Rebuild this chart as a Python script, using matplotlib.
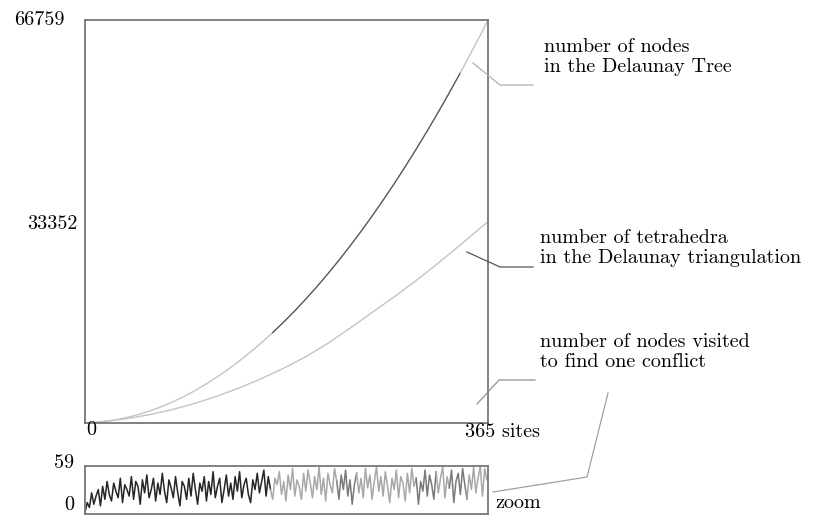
import numpy as np
import matplotlib
matplotlib.use("Agg")
import matplotlib.pyplot as plt
from matplotlib.lines import Line2D

plt.rcParams["font.family"] = ["cmr10", "DejaVu Serif"]
plt.rcParams["axes.formatter.use_mathtext"] = True

# number of nodes in the Delaunay Tree (every 10 sites, last = 365)
node_sites = [0, 10, 20, 30, 40, 50, 60, 70, 80, 90, 100, 110, 120, 130, 140,
              150, 160, 170, 180, 190, 200, 210, 220, 230, 240, 250, 260, 270,
              280, 290, 300, 310, 320, 330, 340, 350, 360, 365]
node_counts = [0, 104, 304, 602, 998, 1490, 2080, 2766, 3550, 4430, 5410, 6485,
               7660, 8930, 10300, 11760, 13320, 14980, 16730, 18580, 20540,
               22580, 24730, 26970, 29310, 31740, 34280, 36910, 39630, 42460,
               45380, 48400, 51510, 54730, 58040, 61450, 64950, 66759]

# number of tetrahedra in the Delaunay triangulation
tetra_sites = [0, 20, 40, 60, 80, 100, 120, 140, 160, 180, 200, 220, 240, 260,
               280, 300, 320, 340, 360, 365]
tetra_counts = [0, 301, 780, 1435, 2268, 3277, 4463, 5827, 7367, 9084, 10978,
                13200, 15700, 18300, 20900, 23600, 26500, 29500, 32600, 33352]

# number of nodes visited to find one conflict (every 2 sites)
visited = [2, 14, 8, 26, 12, 22, 30, 10, 34, 18, 40, 24, 16, 38, 28, 20, 44, 14, 36, 30,
           22, 46, 18, 40, 34, 12, 42, 26, 48, 20, 30, 44, 16, 38, 24, 50, 28, 14, 42, 32,
           20, 46, 26, 10, 40, 34, 18, 44, 22, 50, 30, 12, 38, 28, 46, 16, 40, 24, 52, 20,
           34, 44, 14, 30, 48, 22, 38, 18, 46, 28, 52, 20, 36, 44, 24, 14, 42, 30, 50, 26,
           40, 54, 22, 46, 30, 18, 44, 36, 52, 24, 40, 16, 48, 30, 56, 22, 42, 34, 18, 50,
           28, 54, 38, 20, 46, 30, 58, 24, 44, 16, 50, 36, 26, 56, 40, 18, 48, 30, 54, 22,
           42, 12, 36, 50, 26, 44, 20, 56, 32, 48, 18, 40, 58, 28, 46, 22, 52, 34, 14, 44,
           30, 54, 20, 46, 38, 16, 50, 26, 56, 34, 44, 12, 40, 28, 54, 22, 48, 36, 18, 52,
           26, 44, 58, 20, 46, 32, 54, 14, 40, 50, 24, 56, 36, 18, 48, 30, 58, 26, 44, 59,
           22, 56, 42]
visited_sites = list(range(0, 366, 2))

# shading of the zoom strip: (first site, last site, colour)
zoom_spans = [(0, 168, "#262626"), (168, 228, "#a8a8a8"), (228, 246, "#7a7a7a"),
              (246, 300, "#a8a8a8"), (300, 318, "#7a7a7a"), (318, 330, "#a8a8a8"),
              (330, 346, "#7a7a7a"), (346, 364, "#a8a8a8")]

n_sites = 365
max_nodes = 66759
max_visited = 59

W, H = 834, 516
fig = plt.figure(figsize=(W / 100, H / 100), dpi=100)


def fx(px):
    return px / W


def fy(py):
    return 1 - py / H


ax = fig.add_axes([fx(85), fy(423), fx(488) - fx(85), fy(20) - fy(423)])
axz = fig.add_axes([fx(85), fy(514), fx(488) - fx(85), fy(466) - fy(514)])

for a in (ax, axz):
    a.set_xticks([])
    a.set_yticks([])
    for s in a.spines.values():
        s.set_color("#777777")
        s.set_linewidth(1.3)
    a.set_xlim(0, n_sites)

ax.set_ylim(0, max_nodes)
axz.set_ylim(0, max_visited)

light, dark = "#c4c4c4", "#555555"

# tetrahedra curve
ax.plot(tetra_sites, tetra_counts, color=light, lw=1.0)

# node curve: light / dark / light
ns = np.array(node_sites)
nc = np.array(node_counts)
m1 = ns <= 170
m2 = (ns >= 170) & (ns <= 340)
m3 = ns >= 340
ax.plot(ns[m1], nc[m1], color=light, lw=1.0)
ax.plot(ns[m2], nc[m2], color=dark, lw=1.0)
ax.plot(ns[m3], nc[m3], color=light, lw=1.0)

# zoom strip
vs = np.array(visited_sites)
vv = np.array(visited)
for lo, hi, c in zoom_spans:
    k = (vs >= lo) & (vs <= hi)
    axz.plot(vs[k], vv[k], color=c, lw=1.1)

fs = 14.5
fig.text(fx(65), fy(20), "66759", ha="right", va="center", fontsize=fs)
fig.text(fx(78), fy(224), "33352", ha="right", va="center", fontsize=fs)
fig.text(fx(91), fy(430), "0", ha="center", va="center", fontsize=fs)
fig.text(fx(465), fy(432), "365 sites", ha="left", va="center", fontsize=fs)
fig.text(fx(74), fy(463), "59", ha="right", va="center", fontsize=fs)
fig.text(fx(74), fy(505), "0", ha="right", va="center", fontsize=fs)
fig.text(fx(495), fy(503), "zoom", ha="left", va="center", fontsize=fs)

fig.text(fx(544), fy(57), "number of nodes\nin the Delaunay Tree",
         ha="left", va="center", fontsize=fs, linespacing=1.2)
fig.text(fx(540), fy(248), "number of tetrahedra\nin the Delaunay triangulation",
         ha="left", va="center", fontsize=fs, linespacing=1.2)
fig.text(fx(540), fy(352), "number of nodes visited\nto find one conflict",
         ha="left", va="center", fontsize=fs, linespacing=1.2)

leaders = [
    ([473, 500, 533], [63, 85, 85], "#b0b0b0"),
    ([467, 500, 533], [252, 267, 267], "#555555"),
    ([477, 499, 535], [404, 380, 380], "#909090"),
    ([608, 587, 493], [393, 477, 492], "#a0a0a0"),
]
for xs, ys, c in leaders:
    fig.add_artist(Line2D([fx(v) for v in xs], [fy(v) for v in ys],
                          color=c, lw=0.9, transform=fig.transFigure))

fig.savefig("out.png", dpi=100)
